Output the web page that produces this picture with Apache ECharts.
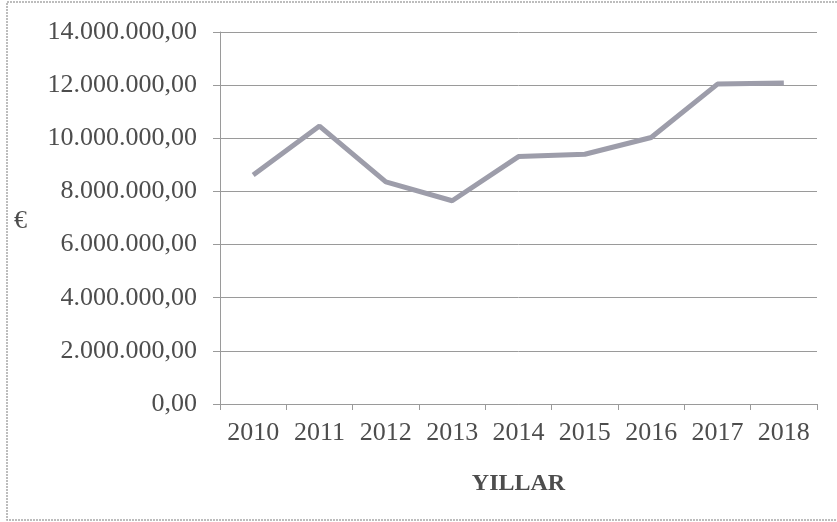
<!DOCTYPE html>
<html>
<head>
<meta charset="utf-8">
<script src="https://cdn.jsdelivr.net/npm/echarts@6/dist/echarts.min.js"></script>
<style>
  html, body { margin: 0; padding: 0; background: #ffffff; }
  #chart { width: 837px; height: 522px; }
</style>
</head>
<body>
<div id="chart"></div>
<script>
// Yearly totals in euro
const years = ['2010', '2011', '2012', '2013', '2014', '2015', '2016', '2017', '2018'];
const values = [8620000, 10460000, 8360000, 7650000, 9310000, 9400000, 10030000, 12040000, 12080000];
const yTicks = [0, 2000000, 4000000, 6000000, 8000000, 10000000, 12000000, 14000000];

// Turkish-style number format: 14.000.000,00
function formatTR(v) {
  const parts = Math.round(v).toString().replace(/\B(?=(\d{3})+(?!\d))/g, '.');
  return parts + ',00';
}

const serif = '"Liberation Serif", "Times New Roman", serif';
const textColor = '#4d4d4d';
const gridColor = '#9a9a9a';

const chart = echarts.init(document.getElementById('chart'), null, { renderer: 'canvas' });
chart.setOption({
  animation: false,
  backgroundColor: '#ffffff',
  grid: { left: 220, right: 20, top: 32, bottom: 118, containLabel: false },
  xAxis: {
    type: 'category',
    data: years,
    boundaryGap: true,
    name: 'YILLAR',
    nameLocation: 'middle',
    nameGap: 68,
    nameTextStyle: { fontFamily: serif, fontSize: 24, fontWeight: 'bold', color: textColor },
    axisLine: { lineStyle: { color: gridColor, width: 1 } },
    axisTick: { show: true, interval: 0, length: 6, lineStyle: { color: gridColor } },
    axisLabel: { interval: 0, fontFamily: serif, fontSize: 26, color: textColor, margin: 16 }
  },
  yAxis: {
    type: 'value',
    min: yTicks[0],
    max: yTicks[yTicks.length - 1],
    interval: yTicks[1] - yTicks[0],
    axisLine: { show: true, lineStyle: { color: gridColor, width: 1 } },
    axisTick: { show: true, length: 7, lineStyle: { color: gridColor } },
    axisLabel: { fontFamily: serif, fontSize: 26, color: textColor, margin: 23, formatter: formatTR },
    splitLine: { show: true, lineStyle: { color: gridColor, width: 1 } }
  },
  series: [{
    type: 'line',
    data: values,
    symbol: 'none',
    lineStyle: { color: '#9d9daa', width: 5 },
    itemStyle: { color: '#9d9daa' }
  }],
  graphic: [
    {
      type: 'rect',
      shape: { x: 7, y: 2, width: 850, height: 518 },
      style: { fill: 'none', stroke: '#a8a8a8', lineWidth: 1.5, lineDash: [2, 1] },
      z: -1
    },
    {
      type: 'text',
      left: 14,
      top: 208,
      style: { text: '€', font: '26px ' + serif, fill: textColor }
    }
  ]
});
</script>
</body>
</html>
